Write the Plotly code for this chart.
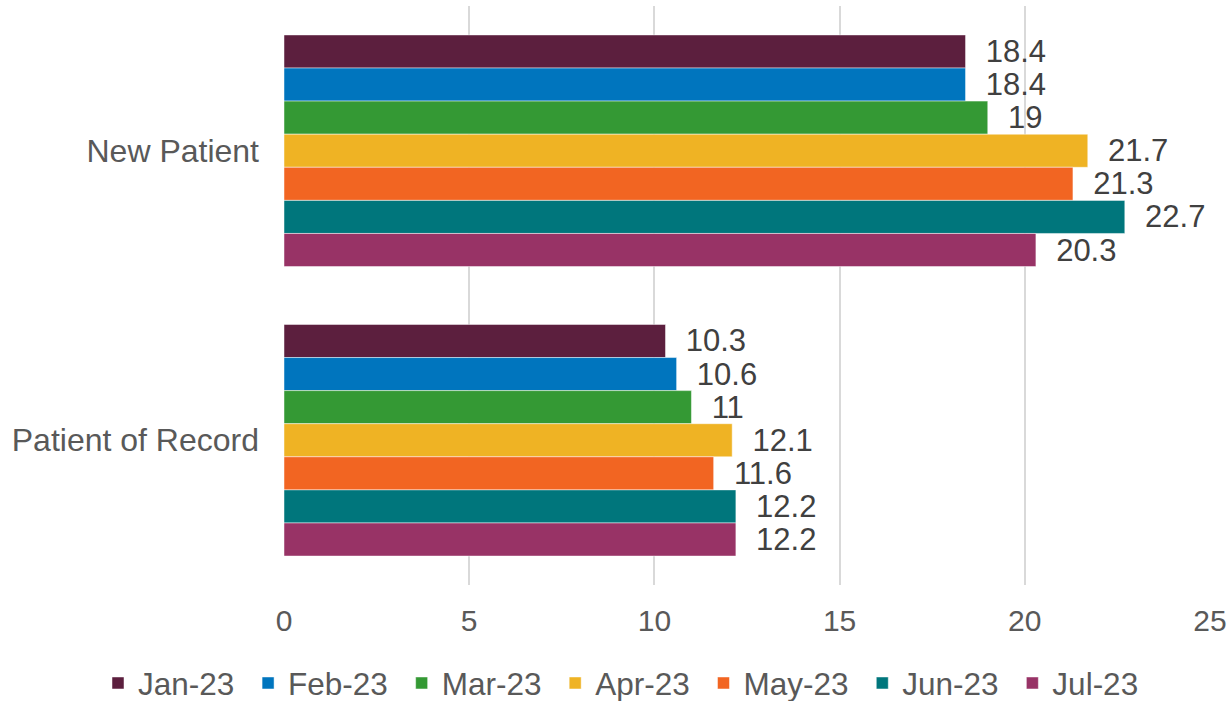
import plotly.graph_objects as go

categories = ["New Patient", "Patient of Record"]
months = ["Jan-23", "Feb-23", "Mar-23", "Apr-23", "May-23", "Jun-23", "Jul-23"]
new_patient = [18.4, 18.4, 19, 21.7, 21.3, 22.7, 20.3]
patient_of_record = [10.3, 10.6, 11, 12.1, 11.6, 12.2, 12.2]
colors = ["#5C1F3E", "#0075BE", "#349934", "#EFB324", "#F26522", "#00767C", "#983366"]
tick_values = [0, 5, 10, 15, 20, 25]

FONT = "Liberation Sans, Arial, sans-serif"

L, R, T, B = 284, 19, 6, 116
W, H = 1229, 701
PW, PH = W - L - R, H - T - B

fig = go.Figure()
for i, m in enumerate(months):
    vals = [new_patient[i], patient_of_record[i]]
    fig.add_trace(go.Bar(
        y=categories, x=vals, name=m + "\u00a0", orientation="h",
        marker=dict(color=colors[i], line=dict(color="rgba(255,255,255,0.6)", width=0.8)),
        text=vals, texttemplate="\u00a0\u00a0%{x}", textposition="outside",
        textfont=dict(family=FONT, size=31, color="#404040"),
        constraintext="none", cliponaxis=False,
    ))

fig.update_layout(
    width=W, height=H,
    barmode="group", bargap=0.2, bargroupgap=0,
    plot_bgcolor="white", paper_bgcolor="white",
    margin=dict(l=L, r=R, t=T, b=B, autoexpand=False),
    font=dict(family=FONT, color="#595959"),
    xaxis=dict(range=[0, 25], tickvals=tick_values, showgrid=True, gridcolor="#D9D9D9", gridwidth=2,
               zeroline=False, showline=False, tickfont=dict(size=30, color="#595959"), ticks="",
               ticklen=0, ticklabelstandoff=15, automargin=False),
    yaxis=dict(autorange="reversed", showgrid=False, showline=False, ticks="",
               tickfont=dict(size=32, color="#595959"), ticklabelstandoff=24, automargin=False),
    legend=dict(orientation="h", xref="paper", yref="paper", x=(98 - L) / PW, xanchor="left",
                y=-(683 - (T + PH)) / PH, yanchor="middle", font=dict(size=31.5, color="#595959"),
                traceorder="normal", itemwidth=30),
    showlegend=True,
)

fig.write_html("out.html", config={"displayModeBar": False},
               post_script="document.body.style.margin='0';document.body.style.overflow='hidden';")
